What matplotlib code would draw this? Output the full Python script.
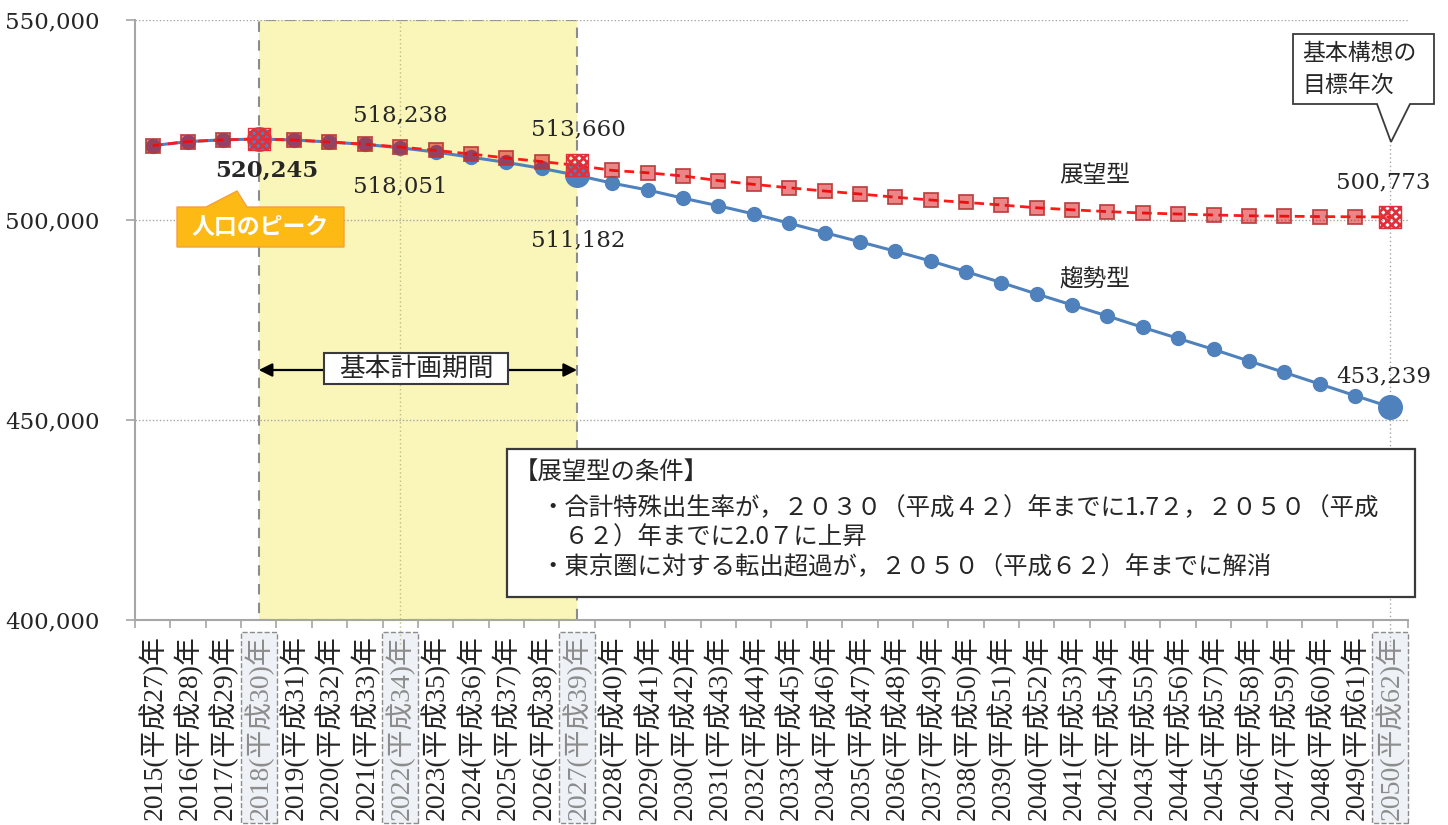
import matplotlib
matplotlib.use("Agg")
import matplotlib.pyplot as plt
from matplotlib.patches import Polygon, Rectangle
from matplotlib.transforms import Affine2D
from matplotlib.ticker import FuncFormatter
import numpy as np

# ---------------------------------------------------------------- data
years = list(range(2015, 2051))
heisei = [y - 1988 for y in years]
tick_labels = [f"{y}(平成{h})年" for y, h in zip(years, heisei)]

# 趨勢型 (trend projection)
trend = [518600, 519600, 520050, 520245, 520000, 519500, 518900, 518051,
         517000, 515700, 514400, 512900, 511182, 509200, 507500, 505450,
         503550, 501500, 499200, 496850, 494550, 492200, 489750, 487100,
         484350, 481500, 478750, 476000, 473150, 470400, 467650, 464750,
         461900, 459000, 456100, 453239]

# 展望型 (outlook projection)
vision = [518600, 519600, 520050, 520245, 520000, 519500, 518950, 518238,
          517400, 516500, 515500, 514600, 513660, 512400, 511800, 511000,
          509850, 508900, 508050, 507250, 506500, 505700, 505000, 504400,
          503750, 503050, 502550, 502100, 501750, 501500, 501250, 501050,
          500950, 500850, 500800, 500773]

peak_idx = 3          # 2018
mid_idx = 7           # 2022
plan_end_idx = 12     # 2027
goal_idx = 35         # 2050
highlight_idx = [peak_idx, mid_idx, plan_end_idx, goal_idx]

yticks = [400000, 450000, 500000, 550000]

# ---------------------------------------------------------------- style
plt.rcParams["font.family"] = ["DejaVu Serif", "Noto Sans CJK JP"]
TXT = "#262626"
BLUE = "#4F81BD"
RED_LINE = "#FF1A1A"
GRID = "#A6A6A6"
SERIF_CJK = ["Liberation Serif", "Noto Sans CJK JP"]
CJK = ["Noto Sans CJK JP", "DejaVu Sans"]

W, H = 1448, 825
fig = plt.figure(figsize=(W / 100, H / 100), dpi=100)
fig.patch.set_facecolor("white")
ax = fig.add_axes([135 / W, 1 - 620 / H, (1408 - 135) / W, 600 / H])

# pixel-space transform for callouts and boxes
pix = Affine2D().scale(1 / W, -1 / H).translate(0, 1) + fig.transFigure

x = np.arange(len(years))
ax.set_xlim(-0.5, len(years) - 0.5)
ax.set_ylim(yticks[0], yticks[-1])

# planning-period band
ax.axvspan(peak_idx, plan_end_idx, facecolor="#FAF5B9", edgecolor="#8C8C8C",
           linestyle=(0, (5, 4)), linewidth=1.5, zorder=0.5)

# gridlines
ax.set_yticks(yticks)
ax.yaxis.set_major_formatter(FuncFormatter(lambda v, p: f"{int(v):,}"))
ax.yaxis.grid(True, linestyle=(0, (1, 1.5)), color=GRID, linewidth=1)
ax.set_axisbelow(True)

# reference vertical lines
ax.axvline(mid_idx, ymin=-0.04, ymax=1, linestyle=(0, (1, 2)),
           color="#BDBD8A", linewidth=1, clip_on=False, zorder=0.6)
ax.axvline(goal_idx, ymin=-0.05, ymax=(620 - 143) / 600, linestyle=(0, (1, 2)),
           color=GRID, linewidth=1, clip_on=False, zorder=0.6)

# series lines
ax.plot(x, trend, color=BLUE, linewidth=2.2, zorder=3)
ax.plot(x, vision, color=RED_LINE, linewidth=2, linestyle=(0, (3.5, 2)), zorder=5)

normal = [i for i in x if i not in (peak_idx, plan_end_idx, goal_idx)]
ax.plot(x[normal], np.array(trend)[normal], linestyle="none", marker="o",
        markersize=10, color=BLUE, zorder=3.5)
ax.plot(x[normal], np.array(vision)[normal], linestyle="none", marker="s",
        markersize=10.5, markerfacecolor=(0.85, 0.0, 0.02, 0.48),
        markeredgecolor=(0.72, 0.22, 0.22, 0.9), markeredgewidth=1.3,
        zorder=5.5)

big = [peak_idx, plan_end_idx, goal_idx]
ax.scatter(x[big], np.array(trend)[big], s=17 ** 2, color=BLUE, zorder=4)
plt.rcParams["hatch.color"] = "#E0303A"
plt.rcParams["hatch.linewidth"] = 2.0
ax.scatter(x[big], np.array(vision)[big], s=16 ** 2, marker="s",
           facecolor="none", edgecolor="#E0303A", hatch="xxxx",
           linewidths=1.0, zorder=6)

# axes cosmetics
for s in ("top", "right"):
    ax.spines[s].set_visible(False)
for s in ("left", "bottom"):
    ax.spines[s].set_color(GRID)
    ax.spines[s].set_linewidth(1.5)

ax.tick_params(axis="y", length=6.5, width=1.2, color=GRID, pad=19,
               labelsize=16.5, labelcolor=TXT)
ax.set_xticks(x)
ax.set_xticklabels(tick_labels, rotation=90, fontsize=20,
                   family=SERIF_CJK, color=TXT)
ax.set_xticks(np.arange(-0.5, len(years), 1), minor=True)
ax.tick_params(axis="x", which="major", length=0, pad=11)
ax.tick_params(axis="x", which="minor", length=6, width=1.2, color=GRID)
for i in highlight_idx:
    lbl = ax.get_xticklabels()[i]
    lbl.set_color("#8C8C8C")
    lbl.set_bbox(dict(boxstyle="square,pad=0.12", facecolor="#EEF1F5",
                      edgecolor="#8C8C8C", linestyle="--", linewidth=1))

# value labels
def value_label(i, v, dx, dy, **kw):
    ax.annotate(f"{v:,}", xy=(i, v), xytext=(dx, dy), textcoords="offset points",
                ha="center", va="center", fontsize=16.5, color=TXT, zorder=8, **kw)

value_label(mid_idx, vision[mid_idx], 0, 23)
value_label(mid_idx, trend[mid_idx], 0, -28)
value_label(plan_end_idx, vision[plan_end_idx], 1, 26)
value_label(plan_end_idx, trend[plan_end_idx], 1, -47)
value_label(peak_idx, trend[peak_idx], 6, -23, fontweight="bold")
value_label(goal_idx, vision[goal_idx], -5, 25)
value_label(goal_idx, trend[goal_idx], -5, 22)

# series names
ax.text(26.65, 511200, "展望型", fontsize=17, family=CJK, color=TXT,
        ha="center", va="center", zorder=8)
ax.text(26.65, 485000, "趨勢型", fontsize=17, family=CJK, color=TXT,
        ha="center", va="center", zorder=8)

# planning-period arrow
arrow_y = 500000 - (370 - 220) * 250
ax.annotate("", xy=(peak_idx, arrow_y), xytext=(plan_end_idx, arrow_y),
            arrowprops=dict(arrowstyle="<|-|>", color="black", lw=1.6,
                            shrinkA=0, shrinkB=0, mutation_scale=20), zorder=7)
fig.patches.append(Rectangle((324, 353), 184, 31, transform=pix, facecolor="white",
                             edgecolor="#3A3A3A", linewidth=1.5, zorder=8))
fig.text(416, 369, "基本計画期間", transform=pix, fontsize=18.5, family=CJK,
         color=TXT, ha="center", va="center", zorder=9)

# population peak callout
peak_shape = [(177, 207), (206, 207), (237, 191), (247, 207), (344, 207),
              (344, 247), (177, 247)]
fig.patches.append(Polygon(peak_shape, closed=True, transform=pix,
                           facecolor="#FDBA14", edgecolor="#F4A03C",
                           linewidth=1, zorder=8))
fig.text(260, 228, "人口のピーク", transform=pix, fontsize=16.5, family=CJK,
         fontweight="bold", color="white", ha="center", va="center", zorder=9)

# target-year callout
goal_shape = [(1293, 34), (1434, 34), (1434, 104), (1410, 104), (1391, 142),
              (1377, 104), (1293, 104)]
fig.patches.append(Polygon(goal_shape, closed=True, transform=pix,
                           facecolor="white", edgecolor="#3A3A3A",
                           linewidth=1.3, zorder=8))
fig.text(1302, 53, "基本構想の", transform=pix, fontsize=16.5, family=CJK,
         color=TXT, ha="left", va="center", zorder=9)
fig.text(1302, 85, "目標年次", transform=pix, fontsize=16.5, family=CJK,
         color=TXT, ha="left", va="center", zorder=9)

# conditions box
fig.patches.append(Rectangle((507, 449), 908, 148, transform=pix, facecolor="white",
                             edgecolor="#3A3A3A", linewidth=1.6, zorder=8))
cond_lines = [
    (514, 472, "【展望型の条件】"),
    (540, 508, "・合計特殊出生率が，２０３０（平成４２）年までに1.7２，２０５０（平成"),
    (540, 538, "　６２）年までに2.0７に上昇"),
    (540, 567, "・東京圏に対する転出超過が，２０５０（平成６２）年までに解消"),
]
for lx, ly, t in cond_lines:
    fig.text(lx, ly, t, transform=pix, fontsize=17.6, family=CJK,
             color=TXT, ha="left", va="center", zorder=9)

fig.savefig("out.png", dpi=100, facecolor="white")
